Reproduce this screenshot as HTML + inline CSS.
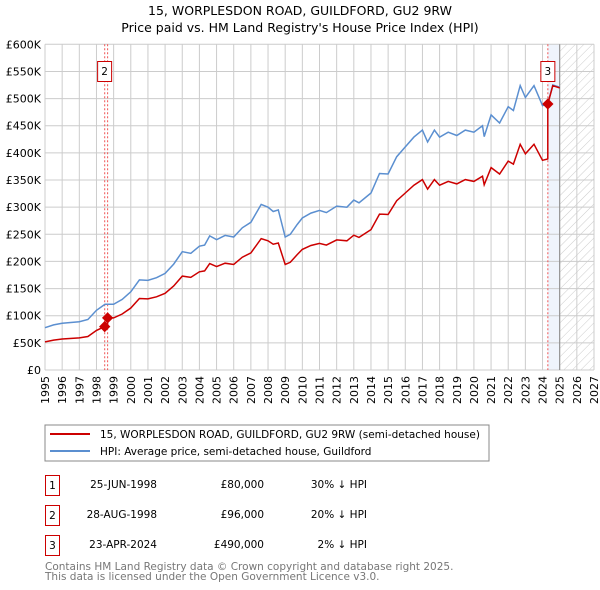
<!DOCTYPE html>
<html><head><meta charset="utf-8"><style>
body{margin:0;background:#fff;width:600px;height:590px;overflow:hidden;font-family:"DejaVu Sans","Liberation Sans",sans-serif}
svg{display:block}
</style></head><body>
<svg id="c" width="600" height="590" xmlns="http://www.w3.org/2000/svg" font-family="DejaVu Sans, Liberation Sans, sans-serif">
<defs><pattern id="hatch" width="6" height="6" patternUnits="userSpaceOnUse" patternTransform="rotate(45)"><line x1="0" y1="0" x2="0" y2="6" stroke="#ccc" stroke-width="1"/></pattern></defs>
<text x="300" y="15" text-anchor="middle" font-size="12.5">15, WORPLESDON ROAD, GUILDFORD, GU2 9RW</text>
<text x="300" y="32" text-anchor="middle" font-size="12.5">Price paid vs. HM Land Registry's House Price Index (HPI)</text>
<g id="grid"></g><g id="marks"></g><g id="axes"></g>
<rect x="45" y="425" width="444" height="36" fill="#fff" stroke="#888"/>
<line x1="50" y1="434" x2="90" y2="434" stroke="#cc0000" stroke-width="2"/>
<text x="100" y="438" font-size="10.5">15, WORPLESDON ROAD, GUILDFORD, GU2 9RW (semi-detached house)</text>
<line x1="50" y1="451" x2="90" y2="451" stroke="#5b8fd0" stroke-width="2"/>
<text x="100" y="455" font-size="10.5">HPI: Average price, semi-detached house, Guildford</text>
<g font-size="10.5">
<rect x="45.5" y="475.5" width="14" height="20" fill="none" stroke="#cc0000"/><text x="52.5" y="489" text-anchor="middle">1</text>
<text x="157" y="488" text-anchor="end">25-JUN-1998</text><text x="264" y="488" text-anchor="end">£80,000</text><text x="367" y="488" text-anchor="end">30% ↓ HPI</text>
<rect x="45.5" y="505.5" width="14" height="20" fill="none" stroke="#cc0000"/><text x="52.5" y="519" text-anchor="middle">2</text>
<text x="157" y="518" text-anchor="end">28-AUG-1998</text><text x="264" y="518" text-anchor="end">£96,000</text><text x="367" y="518" text-anchor="end">20% ↓ HPI</text>
<rect x="45.5" y="535.5" width="14" height="20" fill="none" stroke="#cc0000"/><text x="52.5" y="549" text-anchor="middle">3</text>
<text x="157" y="548" text-anchor="end">23-APR-2024</text><text x="264" y="548" text-anchor="end">£490,000</text><text x="367" y="548" text-anchor="end">2% ↓ HPI</text>
</g>
<text x="45" y="570" font-size="10.5" fill="#777">Contains HM Land Registry data © Crown copyright and database right 2025.</text>
<text x="45" y="580" font-size="10.5" fill="#777">This data is licensed under the Open Government Licence v3.0.</text>
</svg>
<script>
const yearTicks=[1995,1996,1997,1998,1999,2000,2001,2002,2003,2004,2005,2006,2007,2008,2009,2010,2011,2012,2013,2014,2015,2016,2017,2018,2019,2020,2021,2022,2023,2024,2025,2026,2027];
const valueTicks=[0,50000,100000,150000,200000,250000,300000,350000,400000,450000,500000,550000,600000];
const valueLabels=["£0","£50K","£100K","£150K","£200K","£250K","£300K","£350K","£400K","£450K","£500K","£550K","£600K"];
const hpiDates=[1995,1995.5,1996,1997,1997.5,1998,1998.5,1999,1999.5,2000,2000.5,2001,2001.5,2002,2002.5,2003,2003.5,2004,2004.3,2004.6,2005,2005.5,2006,2006.5,2007,2007.6,2008,2008.3,2008.6,2009,2009.3,2009.7,2010,2010.5,2011,2011.4,2012,2012.6,2013,2013.3,2014,2014.5,2015,2015.5,2016,2016.5,2017,2017.3,2017.7,2018,2018.5,2019,2019.5,2020,2020.5,2020.6,2021,2021.5,2022,2022.3,2022.7,2023,2023.5,2024,2024.3,2024.6,2025];
const hpiValues=[78000,83000,86000,89000,93000,110000,121000,121000,130000,144000,166000,165000,170000,178000,195000,218000,215000,228000,230000,247000,240000,248000,245000,262000,272000,305000,300000,292000,295000,245000,250000,268000,280000,289000,294000,290000,302000,300000,313000,308000,326000,362000,361000,393000,411000,429000,442000,420000,442000,429000,438000,432000,442000,438000,450000,430000,470000,455000,485000,478000,524000,502000,524000,487000,490000,525000,521000];
const saleDates=[1998.48,1998.65,2024.31];
const salePrices=[80000,96000,490000];
const saleLabels=["1","2","3"];
const X0=45,X1=594,Y0=370,Y1=44.3;
const xs=t=>X0+(t-1995)/(2027-1995)*(X1-X0);
const ys=v=>Y0-v/600000*(Y0-Y1);
const NS="http://www.w3.org/2000/svg";
function mk(tag,attrs,parent){const e=document.createElementNS(NS,tag);for(const k in attrs)e.setAttribute(k,attrs[k]);parent.appendChild(e);return e;}
const grid=document.getElementById('grid'),marks=document.getElementById('marks'),axes=document.getElementById('axes');
function hpiAt(t){for(let i=0;i<hpiDates.length-1;i++){if(t<=hpiDates[i+1]){const f=(t-hpiDates[i])/(hpiDates[i+1]-hpiDates[i]);return hpiValues[i]+f*(hpiValues[i+1]-hpiValues[i]);}}return hpiValues[hpiValues.length-1];}
let r=mk('rect',{x:xs(saleDates[2]),y:Y1,width:xs(2025)-xs(saleDates[2]),height:Y0-Y1,fill:'#e8effb',opacity:0.7},grid);


r=mk('rect',{x:xs(2025),y:Y1,width:X1-xs(2025),height:Y0-Y1,fill:'url(#hatch)'},grid);


yearTicks.forEach(t=>{const l=mk('line',{x1:xs(t),x2:xs(t),y1:Y1,y2:Y0,stroke:'#ccc','stroke-width':1},grid);


const tx=mk('text',{x:0,y:0,'font-size':'11','text-anchor':'end',transform:`translate(${xs(t)+4},${Y0+6}) rotate(-90)`},axes);tx.textContent=t;

});
valueTicks.forEach((v,i)=>{const l=mk('line',{x1:X0,x2:X1,y1:ys(v),y2:ys(v),stroke:'#ccc','stroke-width':1},grid);


const tx=mk('text',{x:X0-4,y:ys(v)+4,'font-size':'11','text-anchor':'end'},axes);tx.textContent=valueLabels[i];

});
let l=mk('line',{x1:xs(2025),x2:xs(2025),y1:Y1,y2:Y0,stroke:'#888','stroke-width':1},grid);


saleDates.forEach((d,i)=>{const v=mk('line',{x1:xs(d),x2:xs(d),y1:Y1,y2:Y0,stroke:'#ee5555','stroke-width':1,'stroke-dasharray':'2,2'},marks);

});
let pts=hpiDates.map((t,i)=>xs(t).toFixed(1)+','+ys(hpiValues[i]).toFixed(1)).join(' ');
let p=mk('polyline',{points:pts,fill:'none',stroke:'#5b8fd0','stroke-width':1.5},marks);


const rp=[];
function ratioAt(t){let k=0;for(let i=0;i<saleDates.length;i++)if(t>=saleDates[i])k=i;return salePrices[k]/hpiAt(saleDates[k]);}
const tset=hpiDates.concat(saleDates).sort((a,b)=>a-b);
tset.forEach(t=>{for(let i=0;i<saleDates.length;i++){if(Math.abs(t-saleDates[i])<1e-9&&i>0){rp.push([t,hpiAt(t)*salePrices[i-1]/hpiAt(saleDates[i-1])]);}}rp.push([t,hpiAt(t)*ratioAt(t)]);});
pts=rp.map(a=>xs(a[0]).toFixed(1)+','+ys(a[1]).toFixed(1)).join(' ');
p=mk('polyline',{points:pts,fill:'none',stroke:'#cc0000','stroke-width':1.5},marks);


saleDates.forEach((d,i)=>{const c=mk('rect',{x:xs(d)-4,y:ys(salePrices[i])-4,width:8,height:8,fill:'#cc0000',transform:`rotate(45 ${xs(d)} ${ys(salePrices[i])})`},marks);

});
[1,2].forEach(i=>{const bx=xs(saleDates[i])-(i===1?10:7);const g=mk('rect',{x:bx,y:61.5,width:14,height:20,fill:'#fff',stroke:'#cc0000'},marks);


const t=mk('text',{x:bx+7,y:75,'font-size':'10.5','text-anchor':'middle'},marks);t.textContent=saleLabels[i];

});
</script>
</body></html>
